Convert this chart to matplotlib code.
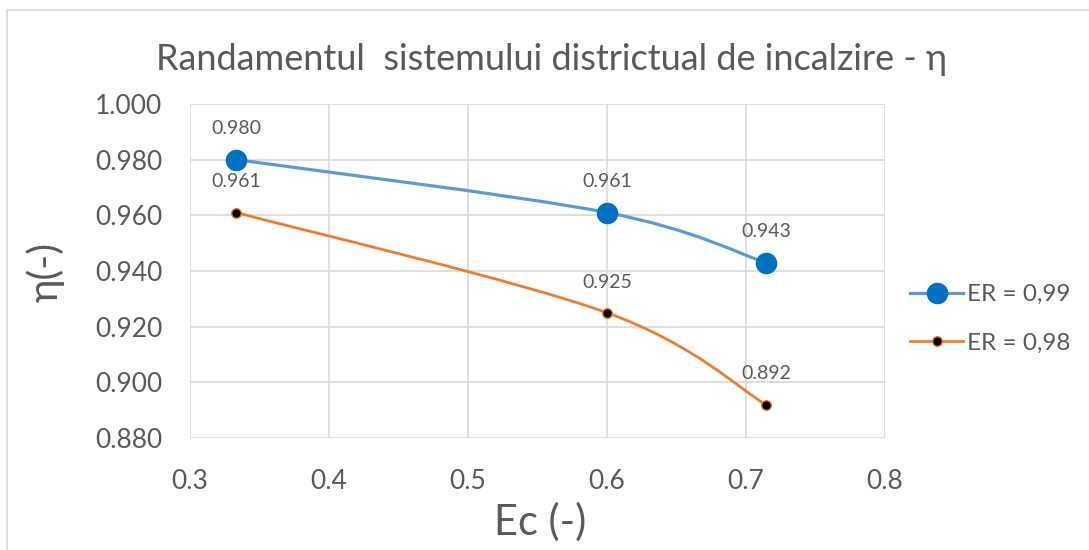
import numpy as np
import matplotlib
matplotlib.use("Agg")
import matplotlib.pyplot as plt
from matplotlib.path import Path
from matplotlib.patches import PathPatch, Rectangle
from matplotlib.lines import Line2D

# data
ec = [1 / 3, 0.6, 5 / 7]
eta_099 = [0.980, 0.961, 0.943]
eta_098 = [0.961, 0.925, 0.892]
labels = ["ER = 0,99", "ER = 0,98"]

TXT = "#595959"
plt.rcParams['font.family'] = ['Lato', 'DejaVu Sans']


def smooth_path(xs, ys):
    # Excel-like smoothed line: cubic bezier through the points
    pts = np.column_stack([xs, ys])
    ext = np.vstack([pts[0], pts, pts[-1]])
    verts = [pts[0]]
    codes = [Path.MOVETO]
    for i in range(len(pts) - 1):
        p0, p1, p2, p3 = ext[i], ext[i + 1], ext[i + 2], ext[i + 3]
        verts += [p1 + (p2 - p0) / 6, p2 - (p3 - p1) / 6, p2]
        codes += [Path.CURVE4] * 3
    return Path(verts, codes)


fig = plt.figure(figsize=(10.89, 5.5), dpi=100)
fig.patches.append(Rectangle((7 / 1089, -0.1), 1.2, (540 + 55) / 550, transform=fig.transFigure,
                             fill=False, edgecolor="#D9D9D9", linewidth=1.2))
ax = fig.add_axes([190 / 1089, 112 / 550, 695 / 1089, 334 / 550])

series = [
    (eta_099, "#5B9BD5", "#0070C0", "#0070C0", 14.5, 2.3),
    (eta_098, "#ED7D31", "black", "#ED7D31", 7, 2.0),
]
handles = []
for ys, lc, mfc, mec, ms, lw in series:
    ax.add_patch(PathPatch(smooth_path(ec, ys), facecolor="none", edgecolor=lc,
                           linewidth=lw, capstyle="round", zorder=3))
    ax.plot(ec, ys, linestyle="none", marker="o", markersize=ms,
            markerfacecolor=mfc, markeredgecolor=mec, markeredgewidth=1, zorder=4)
    for x, y in zip(ec, ys):
        ax.annotate(f"{y:.3f}", (x, y), xytext=(0, 16), textcoords="offset points",
                    ha="center", va="bottom", fontsize=14, color=TXT)
    handles.append(Line2D([], [], color=lc, linewidth=lw, marker="o", markersize=ms,
                          markerfacecolor=mfc, markeredgecolor=mec))

ax.set_xlim(0.3, 0.8)
ax.set_ylim(0.88, 1.0)
ax.set_xticks(np.arange(0.3, 0.81, 0.1))
ax.set_yticks(np.arange(0.88, 1.001, 0.02))
ax.set_xticklabels([f"{v:.1f}" for v in np.arange(0.3, 0.81, 0.1)])
ax.set_yticklabels([f"{v:.3f}" for v in np.arange(0.88, 1.001, 0.02)])
ax.grid(True, color="#D9D9D9", linewidth=1.2)
ax.set_axisbelow(True)
for s in ax.spines.values():
    s.set_visible(False)
ax.tick_params(length=0, labelsize=19, labelcolor=TXT)
ax.tick_params(axis="y", pad=20)
ax.tick_params(axis="x", pad=22)

fig.text(552 / 1089, 1 - 60 / 550, "Randamentul  sistemului districtual de incalzire - η",
         ha="center", va="center", fontsize=26, color=TXT)
fig.text(45 / 1089, 1 - 272 / 550, "η(-)", rotation=90, ha="center", va="center",
         fontsize=29, color=TXT)
fig.text(540 / 1089, 1 - 522 / 550, "Ec (-)", ha="center", va="center", fontsize=30, color=TXT)

fig.legend(handles, labels, loc="center left", bbox_to_anchor=(888 / 1089, 1 - 319 / 550),
           frameon=False, fontsize=17.5, labelcolor=TXT, handlelength=2.2,
           handletextpad=0.15, labelspacing=1.15)

fig.savefig("out.png", dpi=100)
